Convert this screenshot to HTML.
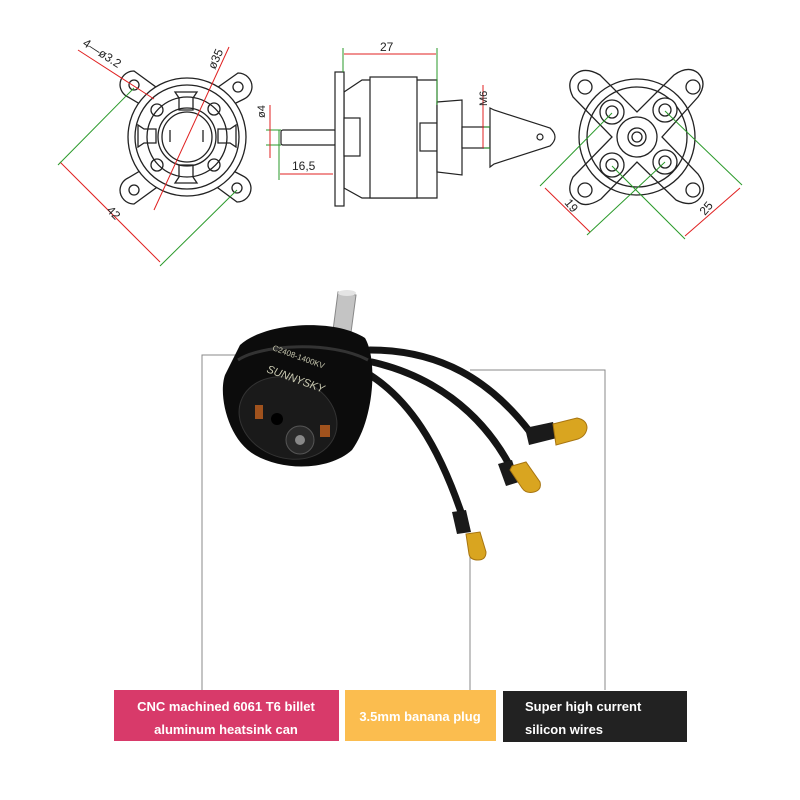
<!DOCTYPE html>
<html><head><meta charset="utf-8"><style>
html,body{margin:0;padding:0;background:#fff}
svg{display:block}
text{font-family:"Liberation Sans",Arial,sans-serif}
</style></head><body>
<svg width="800" height="800" viewBox="0 0 800 800" xmlns="http://www.w3.org/2000/svg">
<rect width="800" height="800" fill="#fff"/>
<!-- LEFT VIEW -->
<g fill="#fff" stroke="#222" stroke-width="1.3">
  <path d="M134 71 a14 14 0 0 0 -14 14 a14 14 0 0 0 8 12 L150 110 L160 90 Z"/>
  <path d="M238 73 a14 14 0 0 1 14 14 a14 14 0 0 1 -8 12 L222 110 L214 90 Z"/>
  <path d="M134 204 a14 14 0 0 1 -14 -14 a14 14 0 0 1 8 -12 L150 165 L160 185 Z"/>
  <path d="M237 202 a14 14 0 0 0 14 -14 a14 14 0 0 0 -8 -12 L222 165 L214 185 Z"/>
  <circle cx="187" cy="137" r="59"/>
</g>
<g fill="none" stroke="#222" stroke-width="1.3">
  <circle cx="134" cy="85" r="5"/><circle cx="238" cy="87" r="5"/><circle cx="134" cy="190" r="5"/><circle cx="237" cy="188" r="5"/>
  <circle cx="187" cy="137" r="52"/>
  <circle cx="187" cy="137" r="40"/>
  <circle cx="187" cy="137" r="29"/>
  <circle cx="187" cy="137" r="25"/>
  <circle cx="157" cy="110" r="6"/><circle cx="214" cy="109" r="6"/><circle cx="157" cy="165" r="6"/><circle cx="214" cy="165" r="6"/>
  <path d="M175 92 h22 l-4 6 v12 h-14 v-12 z M175 183 h22 l-4 -6 v-12 h-14 v12 z M138 125 v22 l6 -4 h12 v-14 h-12 z M236 125 v22 l-6 -4 h-12 v-14 h12 z"/>
  <line x1="170" y1="130" x2="170" y2="142"/><line x1="203" y1="130" x2="203" y2="142"/>
</g>
<g stroke="#e02020" stroke-width="1" fill="none">
  <line x1="78" y1="50" x2="154" y2="99"/>
  <line x1="229" y1="47" x2="154" y2="210"/>
  <line x1="60" y1="162" x2="160" y2="262"/>
</g>
<g stroke="#2a9a2a" stroke-width="1" fill="none">
  <line x1="58" y1="165" x2="134" y2="88"/>
  <line x1="160" y1="266" x2="237" y2="190"/>
</g>
<text x="0" y="0" font-size="12" fill="#222" transform="translate(82,45) rotate(33)">4—ø3.2</text>
<text x="0" y="0" font-size="12" fill="#222" transform="translate(215,70) rotate(-66)">ø35</text>
<text x="0" y="0" font-size="12" fill="#222" transform="translate(106,211) rotate(45)">42</text>

<!-- MIDDLE VIEW -->
<g fill="#fff" stroke="#222" stroke-width="1.2">
  <rect x="281" y="130" width="55" height="15" rx="2"/>
  <path d="M344 92 L362 80 H437 V198 H362 L344 188 Z"/>
  <rect x="370" y="77" width="47" height="121"/>
  <rect x="335" y="72" width="9" height="134"/>
  <rect x="344" y="118" width="16" height="38"/>
  <rect x="420" y="123" width="17" height="28"/>
  <path d="M437 102 L462 100 V175 L437 172 Z"/>
  <rect x="462" y="127" width="28" height="21"/>
  <path d="M490 108 L494 110 L550 128 Q560 137 550 146 L494 164 L490 167 Z"/>
  <circle cx="540" cy="137" r="3"/>
</g>
<g stroke="#2a9a2a" stroke-width="1">
  <line x1="343" y1="48" x2="343" y2="72"/><line x1="437" y1="48" x2="437" y2="105"/>
  <line x1="279" y1="130" x2="279" y2="180"/><line x1="266" y1="130" x2="281" y2="130"/><line x1="266" y1="145" x2="281" y2="145"/>
  <line x1="484" y1="127" x2="490" y2="127"/><line x1="484" y1="148" x2="490" y2="148"/>
</g>
<g stroke="#e02020" stroke-width="1">
  <line x1="344" y1="54" x2="436" y2="54"/>
  <line x1="280" y1="174" x2="333" y2="174"/>
  <line x1="483" y1="85" x2="483" y2="148"/>
  <line x1="270" y1="105" x2="270" y2="158"/>
</g>
<text x="380" y="51" font-size="12" fill="#222">27</text>
<text x="292" y="170" font-size="12" fill="#222">16,5</text>
<text x="0" y="0" font-size="11" fill="#222" transform="translate(487,106) rotate(-90)">M6</text>
<text x="0" y="0" font-size="11" fill="#222" transform="translate(265,118) rotate(-90)">ø4</text>

<!-- RIGHT VIEW -->
<g fill="none" stroke="#222" stroke-width="1.3">
  <path d="M577 73 q-12 8 -4 24 L612 137 L573 177 q-8 16 4 24 q8 8 24 -2 L637 162 L676 200 q16 8 24 -2 q8 -10 -2 -24 L662 137 L698 97 q10 -14 0 -24 q-10 -8 -24 2 L637 112 L600 75 q-14 -8 -23 -2 Z"/>
  <circle cx="585" cy="87" r="7"/><circle cx="693" cy="87" r="7"/><circle cx="585" cy="190" r="7"/><circle cx="693" cy="190" r="7"/>
  <circle cx="637" cy="137" r="58"/>
  <circle cx="637" cy="137" r="50"/>
  <circle cx="612" cy="112" r="12" fill="#fff"/><circle cx="665" cy="110" r="12" fill="#fff"/><circle cx="612" cy="165" r="12" fill="#fff"/><circle cx="665" cy="162" r="12" fill="#fff"/>
  <circle cx="612" cy="112" r="6"/><circle cx="665" cy="110" r="6"/><circle cx="612" cy="165" r="6"/><circle cx="665" cy="162" r="6"/>
  <circle cx="637" cy="137" r="20" fill="#fff"/>
  <circle cx="637" cy="137" r="9"/><circle cx="637" cy="137" r="5"/>
</g>
<g stroke="#2a9a2a" stroke-width="1">
  <line x1="540" y1="186" x2="612" y2="113"/>
  <line x1="587" y1="235" x2="665" y2="162"/>
  <line x1="612" y1="166" x2="685" y2="239"/>
  <line x1="665" y1="111" x2="742" y2="185"/>
</g>
<g stroke="#e02020" stroke-width="1">
  <line x1="545" y1="188" x2="590" y2="232"/>
  <line x1="685" y1="236" x2="740" y2="188"/>
</g>
<text x="0" y="0" font-size="12" fill="#222" transform="translate(564,203) rotate(50)">19</text>
<text x="0" y="0" font-size="12" fill="#222" transform="translate(705,216) rotate(-50)">25</text>

<!-- Leader lines -->
<g stroke="#888" stroke-width="1" fill="none">
  <polyline points="260,355 202,355 202,690"/>
  <polyline points="470,370 605,370 605,690"/>
  <line x1="470" y1="555" x2="470" y2="690"/>
</g>

<!-- MOTOR PHOTO -->
<g>
  <path d="M338 292 L356 295 L350 340 L332 338 Z" fill="#c4c4c4" stroke="#888" stroke-width="1"/>
  <ellipse cx="347" cy="293" rx="9" ry="3" fill="#e4e4e4"/>
  <g fill="none" stroke="#141414" stroke-width="7" stroke-linecap="round">
    <path d="M370 350 C440 350 490 380 530 432"/>
    <path d="M372 362 C430 375 480 410 510 466"/>
    <path d="M358 368 C410 395 440 450 462 515"/>
  </g>
  <g fill="#1a1a1a">
    <path d="M525 428 l28 -6 l4 16 l-28 7 z"/>
    <path d="M498 464 l14 -4 l7 22 l-13 4 z"/>
    <path d="M452 512 l14 -2 l5 22 l-14 2 z"/>
  </g>
  <g fill="#d9a520" stroke="#a87510" stroke-width="1">
    <path d="M553 424 l24 -6 q10 2 10 10 q-1 8 -9 11 l-22 6 z"/>
    <path d="M512 466 l14 -4 l14 20 q2 8 -6 10 q-8 2 -12 -4 l-12 -18 z"/>
    <path d="M466 534 l14 -2 l6 20 q0 8 -8 8 q-8 0 -9 -6 z"/>
  </g>
  <path d="M240 345 C265 322 335 318 365 338 C378 360 374 420 352 450 C330 470 285 472 255 455 C228 440 218 395 225 375 Z" fill="#0c0c0c"/>
  <path d="M238 360 C260 345 330 340 368 360" fill="none" stroke="#333" stroke-width="3"/>
  <ellipse cx="288" cy="418" rx="50" ry="40" transform="rotate(20 288 418)" fill="#1a1a1a" stroke="#333"/>
  <circle cx="300" cy="440" r="14" fill="#2a2a2a" stroke="#555"/>
  <circle cx="300" cy="440" r="5" fill="#888"/>
  <circle cx="277" cy="419" r="6" fill="#000"/>
  <rect x="255" y="405" width="8" height="14" fill="#a0521d"/>
  <rect x="320" y="425" width="10" height="12" fill="#a0521d"/>
  <text x="0" y="0" font-size="11" fill="#c8c8b0" font-style="italic" transform="translate(266,372) rotate(20)">SUNNYSKY</text>
  <text x="0" y="0" font-size="8" fill="#c8c8b0" transform="translate(272,350) rotate(20)">C2408-1400KV</text>
</g>
<!-- Labels -->
<rect x="114" y="690" width="225" height="51" fill="#d83a6a"/>
<rect x="345" y="690" width="151" height="51" fill="#fbbd4f"/>
<rect x="503" y="691" width="184" height="51" fill="#222"/>
<g font-weight="bold" font-size="13" fill="#fff">
<text x="226" y="711" text-anchor="middle">CNC machined 6061 T6 billet</text>
<text x="226" y="734" text-anchor="middle">aluminum heatsink can</text>
<text x="420" y="721" text-anchor="middle">3.5mm banana plug</text>
<text x="525" y="711">Super high current</text>
<text x="525" y="734">silicon wires</text>
</g>
</svg>
</body></html>
